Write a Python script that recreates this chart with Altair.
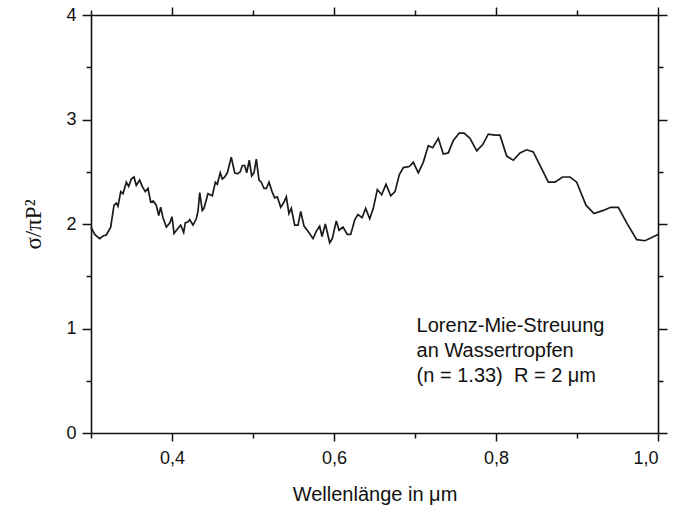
import altair as alt
import pandas as pd

# Wavelength (µm) and normalised scattering cross section
wavelength = [0.3000, 0.3046, 0.3107, 0.3148, 0.3189, 0.3243, 0.3284, 0.3312, 0.3333, 0.3367,
              0.3395, 0.3436, 0.3465, 0.3498, 0.3531, 0.3559, 0.3601, 0.3633, 0.3670, 0.3704,
              0.3737, 0.3769, 0.3806, 0.3836, 0.3860, 0.3889, 0.3930, 0.3972, 0.4000, 0.4025,
              0.4065, 0.4107, 0.4144, 0.4164, 0.4198, 0.4219, 0.4259, 0.4300, 0.4321, 0.4342,
              0.4374, 0.4395, 0.4444, 0.4498, 0.4535, 0.4559, 0.4596, 0.4621, 0.4651, 0.4683,
              0.4732, 0.4774, 0.4806, 0.4843, 0.4868, 0.4898, 0.4922, 0.4954, 0.4984, 0.5012,
              0.5041, 0.5074, 0.5102, 0.5136, 0.5164, 0.5198, 0.5235, 0.5268, 0.5300, 0.5342,
              0.5383, 0.5411, 0.5444, 0.5473, 0.5515, 0.5556, 0.5589, 0.5630, 0.5679, 0.5741,
              0.5781, 0.5823, 0.5852, 0.5893, 0.5926, 0.5947, 0.5979, 0.6028, 0.6062, 0.6111,
              0.6164, 0.6206, 0.6256, 0.6296, 0.6346, 0.6391, 0.6441, 0.6485, 0.6535, 0.6589,
              0.6642, 0.6700, 0.6753, 0.6806, 0.6856, 0.6930, 0.6979, 0.7041, 0.7102, 0.7164,
              0.7219, 0.7288, 0.7349, 0.7411, 0.7473, 0.7547, 0.7605, 0.7679, 0.7762, 0.7836,
              0.7905, 0.7988, 0.8049, 0.8132, 0.8214, 0.8296, 0.8379, 0.8460, 0.8543, 0.8646,
              0.8728, 0.8823, 0.8914, 0.8996, 0.9111, 0.9210, 0.9325, 0.9416, 0.9510, 0.9614,
              0.9737, 0.9840, 1.0000]
sigma = [1.97, 1.90, 1.86, 1.885, 1.895, 1.97, 2.18, 2.20, 2.17, 2.31,
         2.29, 2.40, 2.36, 2.43, 2.45, 2.37, 2.42, 2.36, 2.31, 2.34,
         2.21, 2.22, 2.18, 2.08, 2.16, 2.06, 1.97, 2.01, 2.07, 1.91,
         1.95, 1.99, 1.92, 2.01, 2.02, 2.04, 1.99, 2.05, 2.12, 2.30,
         2.13, 2.15, 2.29, 2.27, 2.40, 2.38, 2.49, 2.43, 2.45, 2.49,
         2.64, 2.49, 2.48, 2.50, 2.56, 2.56, 2.49, 2.61, 2.46, 2.49,
         2.62, 2.42, 2.40, 2.34, 2.34, 2.40, 2.31, 2.25, 2.26, 2.16,
         2.21, 2.26, 2.10, 2.15, 1.99, 1.99, 2.12, 1.98, 1.93, 1.86,
         1.93, 1.98, 1.88, 2.00, 1.89, 1.82, 1.86, 2.03, 1.94, 1.97,
         1.90, 1.90, 2.04, 2.09, 2.06, 2.15, 2.05, 2.15, 2.33, 2.28,
         2.38, 2.27, 2.31, 2.47, 2.54, 2.55, 2.59, 2.49, 2.59, 2.75,
         2.73, 2.82, 2.67, 2.68, 2.80, 2.87, 2.87, 2.82, 2.70, 2.76,
         2.86, 2.85, 2.85, 2.65, 2.61, 2.68, 2.71, 2.69, 2.56, 2.40,
         2.40, 2.45, 2.45, 2.40, 2.18, 2.10, 2.13, 2.16, 2.16, 2.01,
         1.85, 1.84, 1.90]

x_major = [0.4, 0.6, 0.8, 1.0]
x_minor = [0.3, 0.5, 0.7, 0.9]
y_major = [0, 1, 2, 3, 4]
y_minor = [0.5, 1.5, 2.5, 3.5]

note_lines = ["Lorenz-Mie-Streuung", "an Wassertropfen", "(n = 1.33)\u00a0 R = 2 μm"]
note_x = [0.702, 0.702, 0.702]
note_y = [0.967, 0.727, 0.488]

df = pd.DataFrame({"x": wavelength, "y": sigma})
notes = pd.DataFrame({"t": note_lines, "x": note_x, "y": note_y})

xs = alt.Scale(domain=[0.3, 1.0], nice=False, zero=False)
ys = alt.Scale(domain=[0, 4], nice=False, zero=True)

SANS = "Liberation Sans"
comma = "replace(format(datum.value, '.1f'), '.', ',')"


def ax(orient, values, size, domain=False):
    return alt.Axis(orient=orient, values=values, tickSize=size, labels=False,
                    domain=domain, grid=False, ticks=True, title=None)


x_bottom = alt.Axis(orient="bottom", values=x_major, tickSize=8, labels=True, domain=True,
                    grid=False, labelExpr=comma, labelFontSize=18, labelPadding=8,
                    title="Wellenlänge in μm", titleFontSize=20, titleFontWeight="normal",
                    titleX=283.5, titleY=67, titleBaseline="alphabetic", titleAnchor="middle",
                    titleAlign="center")
y_left = alt.Axis(orient="left", values=y_major, tickSize=9, labels=True, domain=True,
                  grid=False, format="d", labelFontSize=18, labelPadding=6,
                  title="σ/πP²", titleFont="Liberation Serif", titleFontSize=23,
                  titleFontWeight="normal", titleX=-58, titleY=209, titleAngle=270,
                  titleBaseline="middle", titleAlign="center")

curve = alt.Chart(df).mark_line(color="#1a1a1a", strokeWidth=1.7).encode(
    x=alt.X("x:Q", scale=xs, axis=x_bottom),
    y=alt.Y("y:Q", scale=ys, axis=y_left),
)


def ghost(xaxis, yaxis):
    return alt.Chart(df).mark_line(opacity=0).encode(
        x=alt.X("x:Q", scale=xs, axis=xaxis),
        y=alt.Y("y:Q", scale=ys, axis=yaxis),
    )


g1 = ghost(ax("bottom", x_minor, 5), ax("left", y_minor, 5))
g2 = ghost(ax("top", x_major, 8, domain=True), ax("right", y_major, 9, domain=True))
g3 = ghost(ax("top", x_minor, 5), ax("right", y_minor, 5))

text = alt.Chart(notes).mark_text(align="left", baseline="alphabetic", font=SANS,
                                  fontSize=20, color="#111111").encode(
    x=alt.X("x:Q", scale=xs, axis=None),
    y=alt.Y("y:Q", scale=ys, axis=None),
    text="t:N",
)

chart = alt.layer(curve, g1, g2, g3, text).resolve_axis(
    x="independent", y="independent"
).properties(
    width=567, height=418,
    padding={"left": 91, "top": 15, "right": 15, "bottom": 73},
    autosize=alt.AutoSizeParams(type="none"),
    background="white",
).configure_view(stroke=None).configure_axis(
    labelFont=SANS, titleFont=SANS, labelColor="#111111", titleColor="#111111",
    tickColor="#111111", domainColor="#111111", tickWidth=1.5, domainWidth=1.6,
    offset=0,
)

chart.save("out.html", embed_options={"renderer": "svg", "actions": False})
